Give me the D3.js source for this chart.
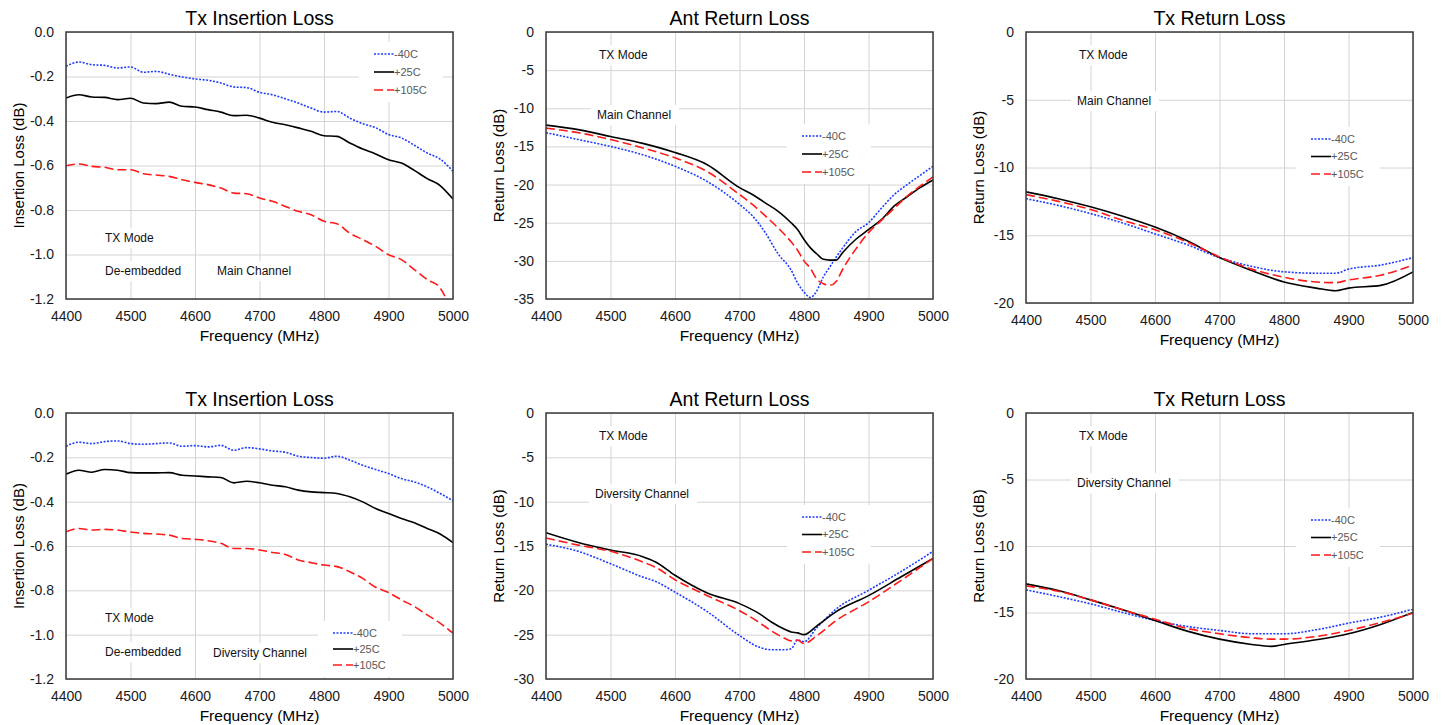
<!DOCTYPE html>
<html lang="en">
<head>
  <meta charset="UTF-8">
  <title>Tx Insertion / Return Loss vs Temperature</title>
  <script src="https://cdn.jsdelivr.net/npm/d3@7"></script>
  <style>
    body { margin: 0; background: #fff; }
    svg { display: block; font-family: "Liberation Sans", Arial, sans-serif; }
    .grid line { stroke: #d4d4d4; stroke-width: 1; }
    .grid path { display: none; }
    .axis path { display: none; }
    .axis text { font-size: 14px; fill: #1a1a1a; }
  </style>
</head>
<body>
<div id="chart"></div>
<script>
  // x axis (MHz)
  const xTicks = [4400, 4500, 4600, 4700, 4800, 4900, 5000];

  // y ticks per panel
  const yTicksIL = [0, -0.2, -0.4, -0.6, -0.8, -1.0, -1.2];
  const yTicksAntMain = [0, -5, -10, -15, -20, -25, -30, -35];
  const yTicksAntDiv = [0, -5, -10, -15, -20, -25, -30];
  const yTicksTx = [0, -5, -10, -15, -20];

  const tempLabels = ["-40C", "+25C", "+105C"];

  // Tx insertion loss, 20 MHz steps
  const freqIL = [4400, 4420, 4440, 4460, 4480, 4500, 4520, 4540, 4560, 4580, 4600, 4620, 4640, 4660, 4680, 4700,
                  4720, 4740, 4760, 4780, 4800, 4820, 4840, 4860, 4880, 4900, 4920, 4940, 4960, 4980, 5000];

  const ilMainM40 = [-0.154, -0.135, -0.147, -0.150, -0.162, -0.157, -0.181, -0.177, -0.190, -0.202, -0.211, -0.217, -0.229, -0.247, -0.250, -0.271,
                     -0.282, -0.300, -0.319, -0.342, -0.360, -0.357, -0.387, -0.412, -0.430, -0.461, -0.476, -0.509, -0.544, -0.571, -0.626];
  const ilMain25 = [-0.297, -0.282, -0.292, -0.294, -0.304, -0.298, -0.319, -0.322, -0.315, -0.334, -0.337, -0.349, -0.360, -0.376, -0.374, -0.387,
                    -0.406, -0.417, -0.431, -0.446, -0.466, -0.469, -0.499, -0.526, -0.548, -0.574, -0.589, -0.622, -0.659, -0.690, -0.751];
  const ilMain105 = [-0.601, -0.593, -0.604, -0.608, -0.619, -0.619, -0.637, -0.643, -0.649, -0.664, -0.676, -0.686, -0.701, -0.724, -0.727, -0.746,
                     -0.761, -0.784, -0.806, -0.821, -0.851, -0.862, -0.904, -0.933, -0.963, -1.001, -1.023, -1.068, -1.113, -1.150, -1.280];

  const ilDivM40 = [-0.150, -0.132, -0.138, -0.129, -0.126, -0.138, -0.141, -0.138, -0.135, -0.150, -0.147, -0.153, -0.146, -0.168, -0.156, -0.162,
                    -0.171, -0.177, -0.195, -0.201, -0.204, -0.195, -0.213, -0.236, -0.255, -0.273, -0.296, -0.311, -0.333, -0.363, -0.396];
  const ilDiv25 = [-0.276, -0.258, -0.267, -0.255, -0.258, -0.269, -0.270, -0.270, -0.269, -0.281, -0.284, -0.288, -0.291, -0.315, -0.308, -0.315,
                   -0.326, -0.333, -0.348, -0.356, -0.359, -0.363, -0.378, -0.401, -0.431, -0.453, -0.476, -0.495, -0.521, -0.546, -0.585];
  const ilDiv105 = [-0.536, -0.521, -0.528, -0.525, -0.528, -0.537, -0.543, -0.546, -0.551, -0.566, -0.570, -0.576, -0.588, -0.611, -0.611, -0.618,
                    -0.629, -0.638, -0.663, -0.675, -0.686, -0.693, -0.716, -0.746, -0.786, -0.810, -0.843, -0.873, -0.911, -0.948, -0.993];

  // Ant return loss, main channel
  const freqAntMain = [4400, 4450, 4500, 4550, 4600, 4650, 4700, 4720, 4740, 4760, 4780, 4790, 4800, 4810, 4820, 4830, 4840, 4850, 4860,
                       4880, 4900, 4920, 4940, 4960, 4980, 5000];
  const antMainM40 = [-13.2, -14.1, -15.0, -16.1, -17.6, -19.6, -22.6, -24.1, -26.3, -29.1, -31.2, -32.9, -34.1, -34.8, -33.9, -32.1, -30.8, -29.5, -28.3,
                      -26.2, -25.0, -23.1, -21.3, -20.0, -18.8, -17.6];
  const antMain25 = [-12.2, -12.8, -13.7, -14.6, -15.8, -17.4, -20.4, -21.3, -22.4, -23.5, -25.0, -25.9, -27.2, -28.3, -29.1, -29.8, -29.9, -29.9, -28.9,
                     -27.2, -25.9, -24.6, -22.8, -21.6, -20.4, -19.4];
  const antMain105 = [-12.6, -13.2, -14.1, -15.2, -16.5, -18.3, -21.3, -22.6, -24.1, -25.7, -27.5, -28.6, -30.0, -31.0, -32.4, -33.0, -33.2, -32.7, -31.1,
                      -28.5, -26.3, -24.7, -23.1, -21.5, -20.2, -19.0];

  // Ant return loss, diversity channel
  const freqAntDiv = [4400, 4450, 4500, 4550, 4570, 4600, 4650, 4700, 4730, 4750, 4770, 4780, 4790, 4800, 4820, 4850, 4900, 4950, 5000];
  const antDivM40 = [-14.8, -15.6, -17.0, -18.5, -19.0, -20.2, -22.4, -25.1, -26.4, -26.7, -26.7, -26.6, -25.6, -25.8, -24.2, -22.1, -20.0, -17.9, -15.6];
  const antDiv25 = [-13.5, -14.6, -15.45, -16.2, -16.8, -18.3, -20.3, -21.5, -22.6, -23.6, -24.4, -24.7, -24.8, -25.0, -24.0, -22.4, -20.6, -18.5, -16.4];
  const antDiv105 = [-14.1, -14.9, -15.6, -16.8, -17.4, -18.8, -20.6, -22.3, -23.6, -24.6, -25.4, -25.7, -25.6, -26.0, -25.1, -23.4, -21.3, -18.9, -16.4];

  // Tx return loss
  const freqTxMain = [4400, 4450, 4500, 4550, 4600, 4650, 4700, 4750, 4800, 4850, 4880, 4900, 4950, 5000];
  const txMainM40 = [-12.3, -12.8, -13.4, -14.1, -14.9, -15.7, -16.65, -17.3, -17.7, -17.8, -17.8, -17.5, -17.2, -16.65];
  const txMain25 = [-11.8, -12.3, -12.9, -13.6, -14.4, -15.4, -16.65, -17.6, -18.45, -18.9, -19.1, -18.9, -18.7, -17.7];
  const txMain105 = [-12.0, -12.5, -13.1, -13.9, -14.6, -15.5, -16.6, -17.5, -18.1, -18.45, -18.5, -18.3, -17.95, -17.2];

  const freqTxDiv = [4400, 4450, 4500, 4550, 4600, 4650, 4700, 4750, 4780, 4800, 4850, 4900, 4950, 5000];
  const txDivM40 = [-13.3, -13.8, -14.35, -15.0, -15.6, -16.05, -16.35, -16.6, -16.6, -16.6, -16.3, -15.8, -15.35, -14.75];
  const txDiv25 = [-12.85, -13.35, -14.05, -14.8, -15.6, -16.4, -17.0, -17.4, -17.55, -17.4, -17.05, -16.6, -15.9, -15.0];
  const txDiv105 = [-13.0, -13.4, -14.05, -14.8, -15.5, -16.2, -16.6, -16.9, -17.0, -17.0, -16.8, -16.35, -15.75, -15.05];

  // line styles for -40C, +25C, +105C
  const styles = [
    { color: "#1f3cff", dash: "2,1.5" },
    { color: "#000000", dash: null },
    { color: "#ff1a1a", dash: "9,4" }
  ];

  const fmtIL = d => d.toFixed(1);
  const fmtRL = d => String(d);

  const panels = [
    { title: "Tx Insertion Loss", yLabel: "Insertion Loss (dB)", freq: freqIL, series: [ilMainM40, ilMain25, ilMain105],
      yTicks: yTicksIL, fmt: fmtIL, box: { l: 66, r: 453, t: 32, b: 299 },
      notes: [["TX Mode", 105, 238], ["De-embedded", 105, 271], ["Main Channel", 217, 271]],
      legend: { x: 374, y: 54, dy: 18 } },
    { title: "Ant Return Loss", yLabel: "Return Loss (dB)", freq: freqAntMain, series: [antMainM40, antMain25, antMain105],
      yTicks: yTicksAntMain, fmt: fmtRL, box: { l: 546, r: 933, t: 32, b: 299 },
      notes: [["TX Mode", 599, 55], ["Main Channel", 597, 115]],
      legend: { x: 802, y: 136, dy: 18 } },
    { title: "Tx Return Loss", yLabel: "Return Loss (dB)", freq: freqTxMain, series: [txMainM40, txMain25, txMain105],
      yTicks: yTicksTx, fmt: fmtRL, box: { l: 1026, r: 1413, t: 32, b: 303 },
      notes: [["TX Mode", 1079, 55], ["Main Channel", 1077, 101]],
      legend: { x: 1311, y: 139, dy: 17.5 } },
    { title: "Tx Insertion Loss", yLabel: "Insertion Loss (dB)", freq: freqIL, series: [ilDivM40, ilDiv25, ilDiv105],
      yTicks: yTicksIL, fmt: fmtIL, box: { l: 66, r: 453, t: 413, b: 679 },
      notes: [["TX Mode", 105, 618], ["De-embedded", 105, 652], ["Diversity Channel", 213, 653]],
      legend: { x: 333, y: 633, dy: 16 } },
    { title: "Ant Return Loss", yLabel: "Return Loss (dB)", freq: freqAntDiv, series: [antDivM40, antDiv25, antDiv105],
      yTicks: yTicksAntDiv, fmt: fmtRL, box: { l: 546, r: 933, t: 413, b: 679 },
      notes: [["TX Mode", 599, 436], ["Diversity Channel", 595, 494]],
      legend: { x: 802, y: 517, dy: 17.5 } },
    { title: "Tx Return Loss", yLabel: "Return Loss (dB)", freq: freqTxDiv, series: [txDivM40, txDiv25, txDiv105],
      yTicks: yTicksTx, fmt: fmtRL, box: { l: 1026, r: 1413, t: 413, b: 679 },
      notes: [["TX Mode", 1079, 436], ["Diversity Channel", 1077, 483]],
      legend: { x: 1311, y: 520, dy: 17.5 } }
  ];

  const svg = d3.select("#chart")
      .append("svg")
      .attr("width", 1449)
      .attr("height", 725);

  svg.append("rect").attr("width", 1449).attr("height", 725).attr("fill", "#fff");

  panels.forEach((p, i) => {
    const b = p.box;
    const w = b.r - b.l, h = b.b - b.t;

    const x = d3.scaleLinear().domain([4400, 5000]).range([b.l, b.r]);
    const y = d3.scaleLinear().domain([0, d3.min(p.yTicks)]).range([b.t, b.b]);

    const g = svg.append("g");

    // gridlines
    g.append("g")
        .attr("class", "grid")
        .attr("transform", `translate(0,${b.b})`)
        .call(d3.axisBottom(x).tickValues(xTicks).tickSize(-h).tickFormat(""));
    g.append("g")
        .attr("class", "grid")
        .attr("transform", `translate(${b.l},0)`)
        .call(d3.axisLeft(y).tickValues(p.yTicks).tickSize(-w).tickFormat(""));

    // axes (labels only, Excel style)
    g.append("g")
        .attr("class", "axis")
        .attr("transform", `translate(0,${b.b})`)
        .call(d3.axisBottom(x).tickValues(xTicks).tickSize(0).tickPadding(12).tickFormat(d3.format("d")));
    g.append("g")
        .attr("class", "axis")
        .attr("transform", `translate(${b.l},0)`)
        .call(d3.axisLeft(y).tickValues(p.yTicks).tickSize(0).tickPadding(12).tickFormat(p.fmt));

    // text boxes (white fill hides the grid)
    p.notes.forEach(([txt, nx, ny]) => {
      const t = g.append("text")
          .attr("x", nx)
          .attr("y", ny)
          .attr("dy", "0.35em")
          .style("font-size", "12px")
          .style("fill", "#111")
          .text(txt);
      const bb = t.node().getBBox();
      g.insert("rect", () => t.node())
          .attr("x", bb.x - 6).attr("y", bb.y - 3)
          .attr("width", bb.width + 14).attr("height", bb.height + 6)
          .attr("fill", "#fff");
    });

    // legend
    const lg = p.legend;
    g.append("rect")
        .attr("x", lg.x - 15).attr("y", lg.y - 12)
        .attr("width", 84).attr("height", lg.dy * 2 + 24)
        .attr("fill", "#fff");
    tempLabels.forEach((lab, k) => {
      const ly = lg.y + k * lg.dy;
      g.append("line")
          .attr("x1", lg.x).attr("x2", lg.x + 20)
          .attr("y1", ly).attr("y2", ly)
          .attr("stroke", styles[k].color)
          .attr("stroke-width", 1.6)
          .attr("stroke-dasharray", styles[k].dash);
      g.append("text")
          .attr("x", lg.x + 20)
          .attr("y", ly)
          .attr("dy", "0.35em")
          .style("font-size", "11px")
          .style("fill", "#595959")
          .text(lab);
    });

    // data lines
    const clipId = `clip${i}`;
    svg.append("clipPath").attr("id", clipId)
        .append("rect").attr("x", b.l).attr("y", b.t).attr("width", w).attr("height", h);

    const line = d3.line()
        .x((d, j) => x(p.freq[j]))
        .y(d => y(d))
        .curve(d3.curveMonotoneX);

    p.series.forEach((s, k) => {
      g.append("path")
          .datum(s)
          .attr("clip-path", `url(#${clipId})`)
          .attr("fill", "none")
          .attr("stroke", styles[k].color)
          .attr("stroke-width", 1.6)
          .attr("stroke-dasharray", styles[k].dash)
          .attr("d", line);
    });

    // plot border
    g.append("rect")
        .attr("x", b.l).attr("y", b.t)
        .attr("width", w).attr("height", h)
        .attr("fill", "none")
        .attr("stroke", "#3a3a3a")
        .attr("stroke-width", 1.5);

    // titles
    g.append("text")
        .attr("x", (b.l + b.r) / 2)
        .attr("y", b.t - 7)
        .attr("text-anchor", "middle")
        .style("font-size", "19.5px")
        .text(p.title);
    g.append("text")
        .attr("x", (b.l + b.r) / 2)
        .attr("y", b.b + 42)
        .attr("text-anchor", "middle")
        .style("font-size", "15.5px")
        .text("Frequency (MHz)");
    g.append("text")
        .attr("transform", `translate(${b.l - 47},${(b.t + b.b) / 2}) rotate(-90)`)
        .attr("dy", "0.35em")
        .attr("text-anchor", "middle")
        .style("font-size", "15px")
        .text(p.yLabel);
  });
</script>
</body>
</html>
